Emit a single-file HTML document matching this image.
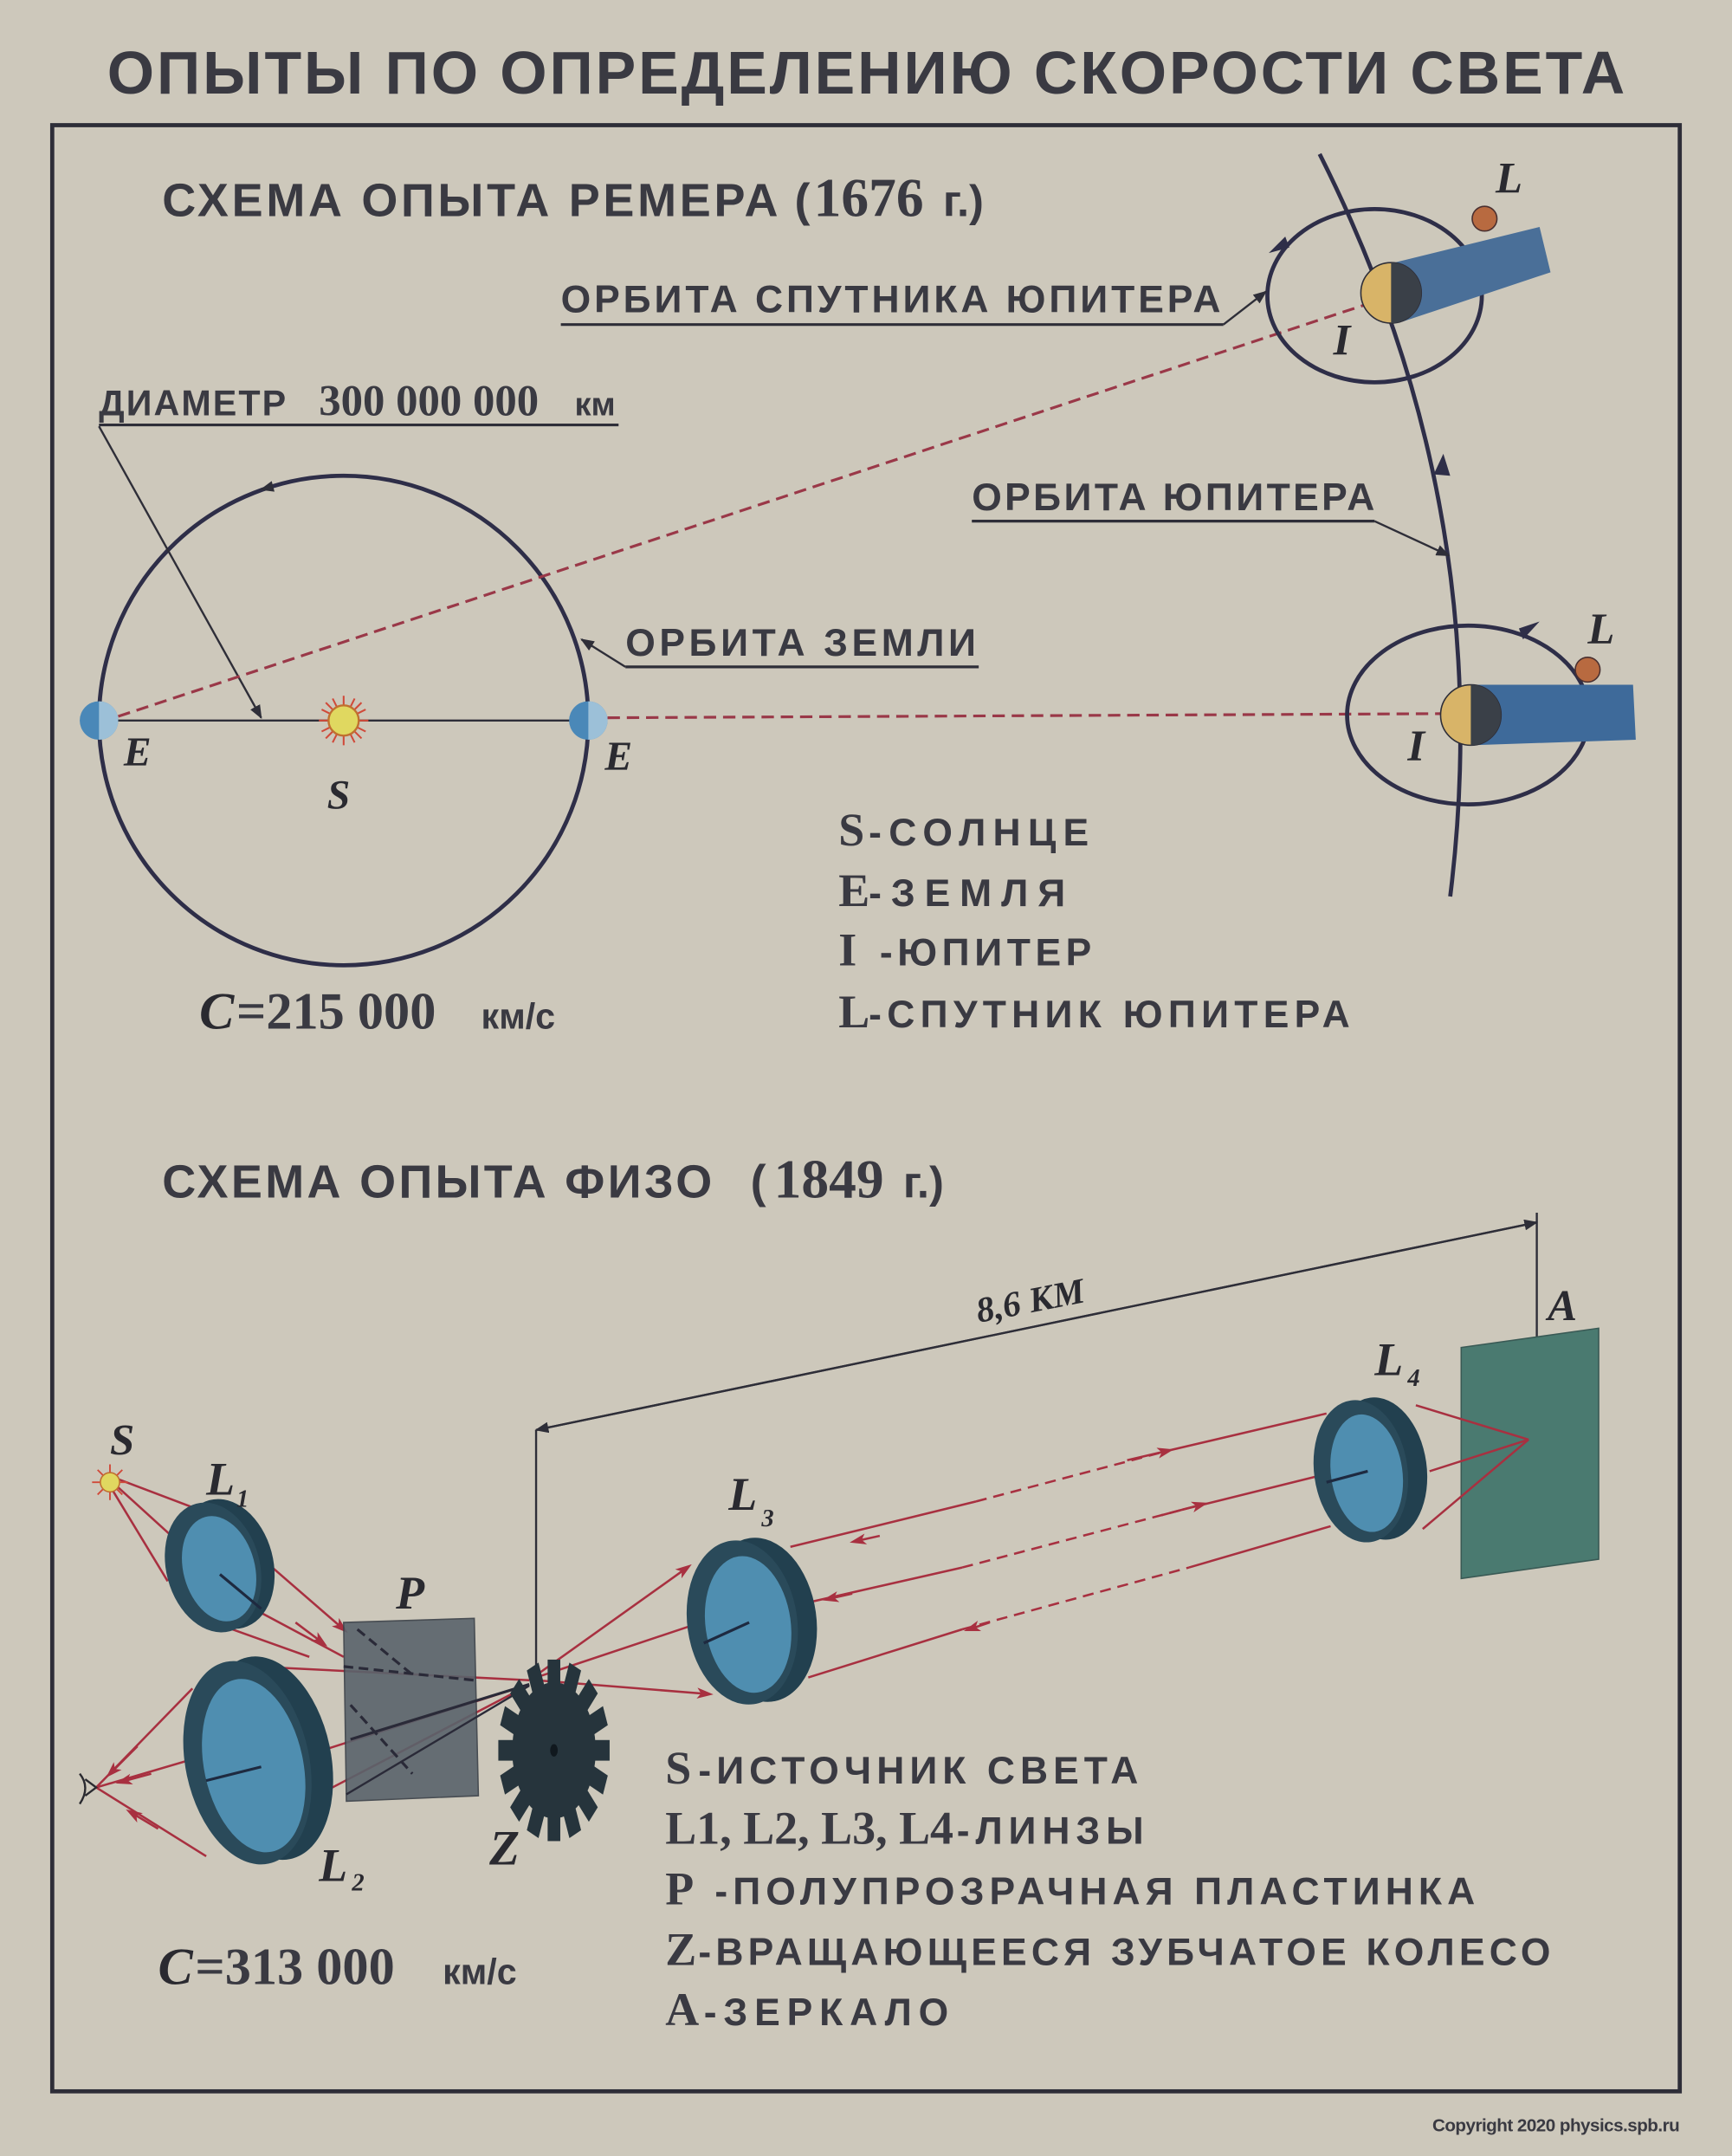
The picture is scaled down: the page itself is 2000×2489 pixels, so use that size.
<!DOCTYPE html>
<html><head><meta charset="utf-8"><style>
html,body{margin:0;padding:0;background:#cdc8bb;}
svg{display:block}
.t{font-family:"Liberation Sans Narrow","Liberation Sans",sans-serif;font-weight:bold;fill:#3a3a42}
.s{font-family:"Liberation Serif",serif;font-weight:bold;fill:#3a3a42}
.i{font-family:"Liberation Serif",serif;font-style:italic;font-weight:bold;fill:#2a2a30}
</style></head><body>
<svg width="2000" height="2489" viewBox="0 0 1260 1568" xmlns="http://www.w3.org/2000/svg">
<defs>
<marker id="ar" markerWidth="10" markerHeight="8" refX="9" refY="4" orient="auto" markerUnits="userSpaceOnUse"><path d="M0,0 L10,4 L0,8 z" fill="#2e2e38"/></marker>
<marker id="rr" markerWidth="12" markerHeight="8" refX="8" refY="4" orient="auto" markerUnits="userSpaceOnUse"><path d="M0,0 L12,4 L0,8 L3,4 z" fill="#a83040"/></marker>
</defs>
<rect width="1260" height="1568" fill="#cdc8bb"/>
<rect x="38" y="91" width="1184" height="1430" fill="none" stroke="#2e2e38" stroke-width="3"/>
<text class="t" x="78" y="68" font-size="44" textLength="1104">ОПЫТЫ ПО ОПРЕДЕЛЕНИЮ СКОРОСТИ СВЕТА</text>

<!-- Roemer -->
<text class="t" x="118" y="157" font-size="34" textLength="448">СХЕМА ОПЫТА РЕМЕРА</text>
<text class="t" x="578" y="157" font-size="34">(</text>
<text class="s" x="592" y="157" font-size="40">1676</text><text class="t" x="686" y="157" font-size="32">г.)</text>

<circle cx="250" cy="524" r="178" fill="none" stroke="#2e2e48" stroke-width="3"/>
<path d="M205,352 L190,356" stroke="#2e2e48" stroke-width="2" marker-end="url(#ar)"/>
<line x1="72" y1="524" x2="428" y2="524" stroke="#2e2e38" stroke-width="1.5"/>
<g><circle cx="72" cy="524" r="14" fill="#4a88b8"/><path d="M72,510 A14,14 0 0 1 72,538 z" fill="#9cc0d8"/></g>
<g><circle cx="428" cy="524" r="14" fill="#4a88b8"/><path d="M428,510 A14,14 0 0 1 428,538 z" fill="#9cc0d8"/></g>
<g stroke="#d04a3a" stroke-width="1.3">
<line x1="232" y1="524" x2="268" y2="524"/><line x1="250" y1="506" x2="250" y2="542"/>
<line x1="237" y1="511" x2="263" y2="537"/><line x1="263" y1="511" x2="237" y2="537"/>
<line x1="234" y1="516" x2="266" y2="532"/><line x1="266" y1="516" x2="234" y2="532"/>
<line x1="242" y1="508" x2="258" y2="540"/><line x1="258" y1="508" x2="242" y2="540"/></g>
<circle cx="250" cy="524" r="11" fill="#e0d860" stroke="#c07030" stroke-width="1.5"/>
<text class="i" x="90" y="557" font-size="30">E</text>
<text class="i" x="440" y="560" font-size="30">E</text>
<text class="i" x="238" y="588" font-size="30">S</text>

<text class="t" x="72" y="302" font-size="26" textLength="136">ДИАМЕТР</text>
<text class="s" x="232" y="302" font-size="32">300 000 000</text><text class="t" x="418" y="302" font-size="24">км</text>
<line x1="72" y1="309" x2="450" y2="309" stroke="#2e2e38" stroke-width="2"/>
<line x1="72" y1="310" x2="190" y2="522" stroke="#2e2e38" stroke-width="1.5" marker-end="url(#ar)"/>

<text class="t" x="455" y="477" font-size="28" textLength="255">ОРБИТА ЗЕМЛИ</text>
<line x1="455" y1="485" x2="712" y2="485" stroke="#2e2e38" stroke-width="2"/>
<line x1="455" y1="485" x2="423" y2="465" stroke="#2e2e38" stroke-width="1.5" marker-end="url(#ar)"/>

<line x1="86" y1="521" x2="992" y2="222" stroke="#9a3848" stroke-width="2" stroke-dasharray="9,5"/>
<line x1="442" y1="522" x2="1050" y2="519" stroke="#9a3848" stroke-width="2" stroke-dasharray="9,5"/>

<path d="M960,112 Q1090,370 1055,652" fill="none" stroke="#2e2e48" stroke-width="3"/>
<path d="M1043,345 L1050,330 L1055,346 z" fill="#2e2e48"/>

<!-- upper jupiter -->
<ellipse cx="1000" cy="215" rx="78" ry="63" fill="none" stroke="#2e2e48" stroke-width="3"/>
<path d="M935,172 L923,184 L938,180 z" fill="#2e2e48"/>
<path d="M1010,192 L1120,165 L1128,198 L1020,234 z" fill="#4a6f98"/>
<circle cx="1012" cy="213" r="22" fill="#d8b468" stroke="#2e2e38"/><path d="M1012,191 A22,22 0 0 1 1012,235 z" fill="#3a4048"/>
<circle cx="1080" cy="159" r="9" fill="#b86a40" stroke="#4a3030" stroke-width="1"/>
<text class="i" x="970" y="258" font-size="32">I</text>
<text class="i" x="1088" y="140" font-size="32">L</text>
<text class="t" x="408" y="227" font-size="28" textLength="480">ОРБИТА СПУТНИКА ЮПИТЕРА</text>
<line x1="408" y1="236" x2="890" y2="236" stroke="#2e2e38" stroke-width="2"/>
<line x1="890" y1="236" x2="921" y2="212" stroke="#2e2e38" stroke-width="1.5" marker-end="url(#ar)"/>

<text class="t" x="707" y="371" font-size="28" textLength="293">ОРБИТА ЮПИТЕРА</text>
<line x1="707" y1="379" x2="1000" y2="379" stroke="#2e2e38" stroke-width="2"/>
<line x1="1000" y1="379" x2="1054" y2="404" stroke="#2e2e38" stroke-width="1.5" marker-end="url(#ar)"/>

<!-- lower jupiter -->
<ellipse cx="1068" cy="520" rx="88" ry="65" fill="none" stroke="#2e2e48" stroke-width="3"/>
<path d="M1105,457 L1120,452 L1108,465 z" fill="#2e2e48"/>
<path d="M1070,498 L1188,498 L1190,538 L1070,542 z" fill="#3e6a9a"/>
<circle cx="1070" cy="520" r="22" fill="#d8b468" stroke="#2e2e38"/><path d="M1070,498 A22,22 0 0 1 1070,542 z" fill="#3a4048"/>
<circle cx="1155" cy="487" r="9" fill="#b86a40" stroke="#4a3030" stroke-width="1"/>
<text class="i" x="1024" y="553" font-size="32">I</text>
<text class="i" x="1155" y="468" font-size="32">L</text>

<text class="i" x="145" y="748" font-size="38">C</text><text class="s" x="172" y="748" font-size="38">=215 000</text><text class="t" x="350" y="748" font-size="26">км/с</text>

<text class="s" x="610" y="615" font-size="34">S</text><text class="t" x="632" y="615" font-size="28" textLength="160">-СОЛНЦЕ</text>
<text class="s" x="610" y="659" font-size="34">E</text><text class="t" x="632" y="659" font-size="28" textLength="143">-ЗЕМЛЯ</text>
<text class="s" x="610" y="702" font-size="34">I</text><text class="t" x="640" y="702" font-size="28" textLength="154">-ЮПИТЕР</text>
<text class="s" x="610" y="747" font-size="34">L</text><text class="t" x="632" y="747" font-size="28" textLength="350">-СПУТНИК ЮПИТЕРА</text>

<!-- Fizeau -->
<text class="t" x="118" y="871" font-size="34" textLength="400">СХЕМА ОПЫТА ФИЗО</text>
<text class="t" x="546" y="871" font-size="34">(</text>
<text class="s" x="563" y="871" font-size="40">1849</text><text class="t" x="657" y="871" font-size="32">г.)</text>

<line x1="390" y1="1040" x2="390" y2="1215" stroke="#2e2e38" stroke-width="1.5"/>
<line x1="1118" y1="882" x2="1118" y2="1048" stroke="#2e2e38" stroke-width="1.5"/>
<line x1="1118" y1="889" x2="390" y2="1040" stroke="#2e2e38" stroke-width="1.5" marker-end="url(#ar)"/>
<line x1="390" y1="1040" x2="1118" y2="889" stroke="#2e2e38" stroke-width="1.5" marker-end="url(#ar)"/>
<text class="i" x="712" y="962" font-size="26" transform="rotate(-11 712 962)">8,6 КМ</text>

<path d="M1063,980 L1163,966 L1163,1134 L1063,1148 z" fill="#4a7a70" stroke="#3a5a55"/>
<text class="i" x="1126" y="960" font-size="32">A</text>

<!-- rays -->
<g stroke="#a83040" stroke-width="1.6" fill="none">
<line x1="84" y1="1075" x2="150" y2="1100"/>
<line x1="84" y1="1080" x2="128" y2="1120"/>
<line x1="82" y1="1084" x2="122" y2="1150"/>
<line x1="175" y1="1120" x2="250" y2="1185" marker-end="url(#rr)"/>
<line x1="175" y1="1165" x2="250" y2="1205"/>
<line x1="155" y1="1180" x2="225" y2="1205"/>
<line x1="185" y1="1212" x2="385" y2="1222"/>
<line x1="385" y1="1222" x2="500" y2="1140" marker-end="url(#rr)"/>
<line x1="390" y1="1220" x2="510" y2="1180" marker-end="url(#rr)"/>
<line x1="390" y1="1222" x2="515" y2="1232" marker-end="url(#rr)"/>
<line x1="575" y1="1125" x2="710" y2="1092"/>
<line x1="590" y1="1165" x2="700" y2="1140"/>
<line x1="588" y1="1220" x2="700" y2="1185"/>
<line x1="850" y1="1055" x2="965" y2="1028"/>
<line x1="860" y1="1098" x2="965" y2="1072"/>
<line x1="865" y1="1140" x2="968" y2="1110"/>
<line x1="1030" y1="1022" x2="1112" y2="1047"/>
<line x1="1040" y1="1070" x2="1112" y2="1047"/>
<line x1="1035" y1="1112" x2="1112" y2="1047"/>
<line x1="385" y1="1225" x2="150" y2="1300"/>
<line x1="380" y1="1228" x2="165" y2="1340"/>
<line x1="140" y1="1228" x2="70" y2="1300"/>
<line x1="145" y1="1278" x2="70" y2="1300"/>
<line x1="150" y1="1350" x2="70" y2="1300"/>
</g>
<g stroke="#a83040" stroke-width="1.6" stroke-dasharray="8,5">
<line x1="710" y1="1092" x2="850" y2="1055"/><line x1="700" y1="1140" x2="860" y2="1098"/><line x1="700" y1="1185" x2="865" y2="1140"/></g>
<g stroke="#a83040" stroke-width="1.6">
<line x1="820" y1="1062" x2="850" y2="1055" marker-end="url(#rr)"/>
<line x1="845" y1="1102" x2="875" y2="1094" marker-end="url(#rr)"/>
<line x1="720" y1="1180" x2="705" y2="1185" marker-end="url(#rr)"/>
<line x1="640" y1="1117" x2="622" y2="1121" marker-end="url(#rr)"/>
<line x1="620" y1="1159" x2="602" y2="1163" marker-end="url(#rr)"/>
<line x1="100" y1="1270" x2="80" y2="1290" marker-end="url(#rr)"/>
<line x1="110" y1="1290" x2="88" y2="1296" marker-end="url(#rr)"/>
<line x1="115" y1="1330" x2="95" y2="1318" marker-end="url(#rr)"/>
<line x1="215" y1="1180" x2="235" y2="1195" marker-end="url(#rr)"/>
</g>

<!-- P plate -->
<path d="M250,1180 L345,1177 L348,1306 L252,1310 z" fill="#5a646c" opacity="0.9" stroke="#3a4048"/>
<g stroke="#2a2a38" stroke-width="2" stroke-dasharray="7,4" fill="none">
<line x1="260" y1="1185" x2="300" y2="1218"/><line x1="255" y1="1240" x2="300" y2="1290"/><line x1="250" y1="1212" x2="345" y2="1222"/></g>
<line x1="255" y1="1265" x2="385" y2="1225" stroke="#2a2a38" stroke-width="2"/>
<line x1="252" y1="1305" x2="385" y2="1226" stroke="#2a2a38" stroke-width="1.5"/>
<text class="i" x="288" y="1170" font-size="34">P</text>

<!-- lenses -->
<g transform="translate(155,1140) rotate(-15)">
<ellipse cx="10" cy="0" rx="34" ry="48" fill="#22404f"/><ellipse cx="0" cy="0" rx="34" ry="48" fill="#2a4a5a"/><ellipse cx="4" cy="2" rx="26" ry="39" fill="#4f8eb0"/></g>
<g transform="translate(180,1282) rotate(-12)">
<ellipse cx="16" cy="0" rx="45" ry="75" fill="#22404f"/><ellipse cx="0" cy="0" rx="45" ry="75" fill="#2a4a5a"/><ellipse cx="4" cy="3" rx="36" ry="64" fill="#4f8eb0"/></g>
<g transform="translate(540,1180) rotate(-8)">
<ellipse cx="14" cy="0" rx="40" ry="60" fill="#22404f"/><ellipse cx="0" cy="0" rx="40" ry="60" fill="#2a4a5a"/><ellipse cx="4" cy="2" rx="31" ry="50" fill="#4f8eb0"/></g>
<g transform="translate(990,1070) rotate(-8)">
<ellipse cx="14" cy="0" rx="34" ry="52" fill="#22404f"/><ellipse cx="0" cy="0" rx="34" ry="52" fill="#2a4a5a"/><ellipse cx="4" cy="2" rx="26" ry="43" fill="#4f8eb0"/></g>
<g stroke="#1e2a40" stroke-width="2"><line x1="160" y1="1145" x2="190" y2="1170"/><line x1="150" y1="1295" x2="190" y2="1285"/><line x1="512" y1="1195" x2="545" y2="1180"/><line x1="965" y1="1078" x2="995" y2="1070"/></g>

<!-- gear -->
<g transform="translate(403,1273) scale(0.92,1.5)" fill="#26343c">
<circle r="33"/>
<g>
<rect x="-5" y="-44" width="10" height="14"/><rect x="-5" y="-44" width="10" height="14" transform="rotate(22.5)"/><rect x="-5" y="-44" width="10" height="14" transform="rotate(45)"/><rect x="-5" y="-44" width="10" height="14" transform="rotate(67.5)"/><rect x="-5" y="-44" width="10" height="14" transform="rotate(90)"/><rect x="-5" y="-44" width="10" height="14" transform="rotate(112.5)"/><rect x="-5" y="-44" width="10" height="14" transform="rotate(135)"/><rect x="-5" y="-44" width="10" height="14" transform="rotate(157.5)"/><rect x="-5" y="-44" width="10" height="14" transform="rotate(180)"/><rect x="-5" y="-44" width="10" height="14" transform="rotate(202.5)"/><rect x="-5" y="-44" width="10" height="14" transform="rotate(225)"/><rect x="-5" y="-44" width="10" height="14" transform="rotate(247.5)"/><rect x="-5" y="-44" width="10" height="14" transform="rotate(270)"/><rect x="-5" y="-44" width="10" height="14" transform="rotate(292.5)"/><rect x="-5" y="-44" width="10" height="14" transform="rotate(315)"/><rect x="-5" y="-44" width="10" height="14" transform="rotate(337.5)"/></g>
<circle r="3" fill="#10181e"/></g>

<!-- source -->
<g stroke="#d04a3a" stroke-width="1.2">
<line x1="67" y1="1078" x2="93" y2="1078"/><line x1="80" y1="1065" x2="80" y2="1091"/><line x1="71" y1="1069" x2="89" y2="1087"/><line x1="89" y1="1069" x2="71" y2="1087"/></g>
<circle cx="80" cy="1078" r="7" fill="#e0d860" stroke="#c07030"/>
<path d="M58,1290 Q66,1300 58,1312 M62,1294 L70,1300 L62,1306" stroke="#2a2a30" stroke-width="1.5" fill="none"/>

<text class="i" x="80" y="1058" font-size="32">S</text>
<text class="i" x="150" y="1087" font-size="34">L</text><text class="i" x="172" y="1096" font-size="18">1</text>
<text class="i" x="530" y="1098" font-size="34">L</text><text class="i" x="554" y="1110" font-size="18">3</text>
<text class="i" x="1000" y="1000" font-size="34">L</text><text class="i" x="1024" y="1008" font-size="18">4</text>
<text class="i" x="232" y="1368" font-size="34">L</text><text class="i" x="256" y="1375" font-size="18">2</text>
<text class="i" x="356" y="1356" font-size="36">Z</text>

<text class="i" x="115" y="1443" font-size="38">C</text><text class="s" x="142" y="1443" font-size="38">=313 000</text><text class="t" x="322" y="1443" font-size="26">км/с</text>

<text class="s" x="484" y="1297" font-size="34">S</text><text class="t" x="508" y="1297" font-size="28" textLength="320">-ИСТОЧНИК СВЕТА</text>
<text class="s" x="484" y="1341" font-size="34">L1, L2, L3, L4</text><text class="t" x="696" y="1341" font-size="28" textLength="136">-ЛИНЗЫ</text>
<text class="s" x="484" y="1385" font-size="34">P</text><text class="t" x="520" y="1385" font-size="28" textLength="553">-ПОЛУПРОЗРАЧНАЯ ПЛАСТИНКА</text>
<text class="s" x="484" y="1429" font-size="34">Z</text><text class="t" x="508" y="1429" font-size="28" textLength="620">-ВРАЩАЮЩЕЕСЯ ЗУБЧАТОЕ КОЛЕСО</text>
<text class="s" x="484" y="1473" font-size="34">A</text><text class="t" x="512" y="1473" font-size="28" textLength="178">-ЗЕРКАЛО</text>

<text class="t" x="1042" y="1550" font-size="13" textLength="180">Copyright 2020 physics.spb.ru</text>
</svg>
</body></html>
